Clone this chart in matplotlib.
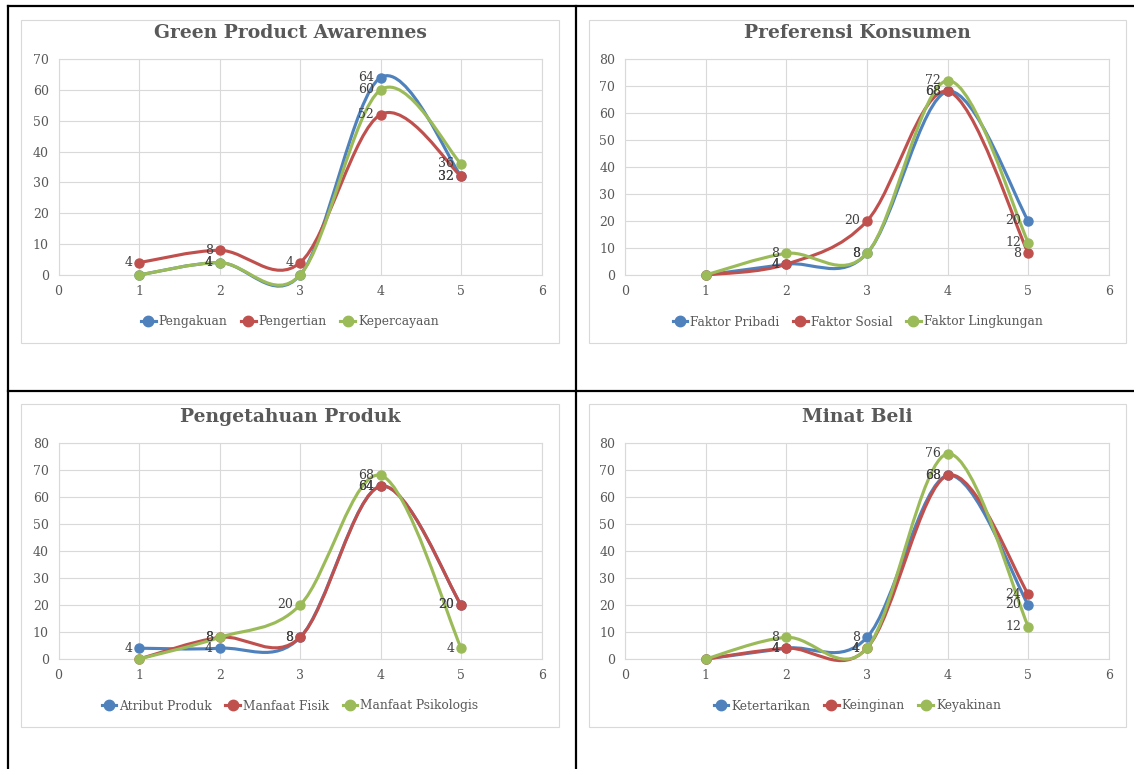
import numpy as np
import matplotlib.pyplot as plt
from matplotlib.path import Path
from matplotlib.patches import PathPatch, Rectangle
from matplotlib.lines import Line2D

plt.rcParams['font.family'] = ['DejaVu Serif']

# data
x = [1, 2, 3, 4, 5]

gpa_title = "Green Product Awarennes"
gpa_names = ["Pengakuan", "Pengertian", "Kepercayaan"]
gpa_pengakuan = [0, 4, 0, 64, 32]
gpa_pengertian = [4, 8, 4, 52, 32]
gpa_kepercayaan = [0, 4, 0, 60, 36]

pk_title = "Preferensi Konsumen"
pk_names = ["Faktor Pribadi", "Faktor Sosial", "Faktor Lingkungan"]
pk_pribadi = [0, 4, 8, 68, 20]
pk_sosial = [0, 4, 20, 68, 8]
pk_lingkungan = [0, 8, 8, 72, 12]

pp_title = "Pengetahuan Produk"
pp_names = ["Atribut Produk", "Manfaat Fisik", "Manfaat Psikologis"]
pp_atribut = [4, 4, 8, 64, 20]
pp_fisik = [0, 8, 8, 64, 20]
pp_psikologis = [0, 8, 20, 68, 4]

mb_title = "Minat Beli"
mb_names = ["Ketertarikan", "Keinginan", "Keyakinan"]
mb_ketertarikan = [0, 4, 8, 68, 20]
mb_keinginan = [0, 4, 4, 68, 24]
mb_keyakinan = [0, 8, 4, 76, 12]

colors = ["#4F81BD", "#C0504D", "#9BBB59"]
W, H = 1134, 769


def smooth_path(xs, ys):
    # excel-style smoothed line (catmull-rom as bezier)
    pts = np.column_stack([xs, ys]).astype(float)
    n = len(pts)
    verts = [pts[0]]
    codes = [Path.MOVETO]
    for i in range(n - 1):
        p0 = pts[max(i - 1, 0)]
        p1 = pts[i]
        p2 = pts[i + 1]
        p3 = pts[min(i + 2, n - 1)]
        verts += [p1 + (p2 - p0) / 6, p2 - (p3 - p1) / 6, p2]
        codes += [Path.CURVE4] * 3
    return Path(verts, codes)


def px_rect(l, t, r, b):
    return [l / W, 1 - b / H, (r - l) / W, (b - t) / H]


def chart(box, plot, title, names, series, ymax):
    l, t, r, b = box
    fig.add_artist(Rectangle((l / W, 1 - b / H), (r - l) / W, (b - t) / H,
                             transform=fig.transFigure, fill=False,
                             edgecolor="#D9D9D9", lw=0.8))
    ax = fig.add_axes(px_rect(*plot))
    for k, (ys, c) in enumerate(zip(series, colors)):
        ax.add_patch(PathPatch(smooth_path(x, ys), facecolor="none", edgecolor=c,
                               lw=2.25, capstyle="round", joinstyle="round",
                               zorder=3 + k, clip_on=False))
        ax.plot(x, ys, "o", color=c, ms=6.5, zorder=3 + k, clip_on=False)
        for xi, yi in zip(x, ys):
            if yi != 0:
                ax.annotate(str(yi), (xi, yi), xytext=(-5, 0), textcoords="offset points",
                            ha="right", va="center", fontsize=9, color="#404040",
                            zorder=10)
    ax.set_xlim(0, 6)
    ax.set_ylim(0, ymax)
    ax.set_xticks(range(0, 7))
    ax.set_yticks(range(0, ymax + 1, 10))
    ax.grid(True, color="#D9D9D9", lw=0.8)
    ax.set_axisbelow(True)
    for s in ax.spines.values():
        s.set_color("#D9D9D9")
        s.set_linewidth(0.8)
    ax.tick_params(length=0, colors="#595959", labelsize=9, pad=7)
    fig.text((l + r) / 2 / W, 1 - (t + 13) / H, title, ha="center", va="center",
             fontsize=13.5, fontweight="bold", color="#595959")
    handles = [Line2D([], [], color=c, lw=2.25, marker="o", ms=7.5) for c in colors]
    fig.legend(handles, names, loc="center", ncol=3, frameon=False,
               bbox_to_anchor=((l + r) / 2 / W, 1 - (t + 302) / H),
               fontsize=8.8, labelcolor="#595959", handlelength=1.2,
               handletextpad=0.25, columnspacing=1.1)
    return ax


fig = plt.figure(figsize=(W / 100, H / 100), dpi=100)

chart((21, 20, 559, 343), (58.6, 59, 541.7, 275), gpa_title, gpa_names,
      [gpa_pengakuan, gpa_pengertian, gpa_kepercayaan], 70)
chart((589, 20, 1126, 343), (625, 59, 1109, 275), pk_title, pk_names,
      [pk_pribadi, pk_sosial, pk_lingkungan], 80)
chart((21, 404, 559, 727), (58.6, 443, 541.7, 659), pp_title, pp_names,
      [pp_atribut, pp_fisik, pp_psikologis], 80)
chart((589, 404, 1126, 727), (625, 443, 1109, 659), mb_title, mb_names,
      [mb_ketertarikan, mb_keinginan, mb_keyakinan], 80)

# table borders
for xs, ys in [((8, W), (6, 6)), ((8, 8), (6, H)), ((576, 576), (6, H)), ((8, W), (391, 391))]:
    fig.add_artist(Line2D([v / W for v in xs], [1 - v / H for v in ys],
                          transform=fig.transFigure, color="black", lw=1.6))

fig.savefig("out.png", dpi=100)
